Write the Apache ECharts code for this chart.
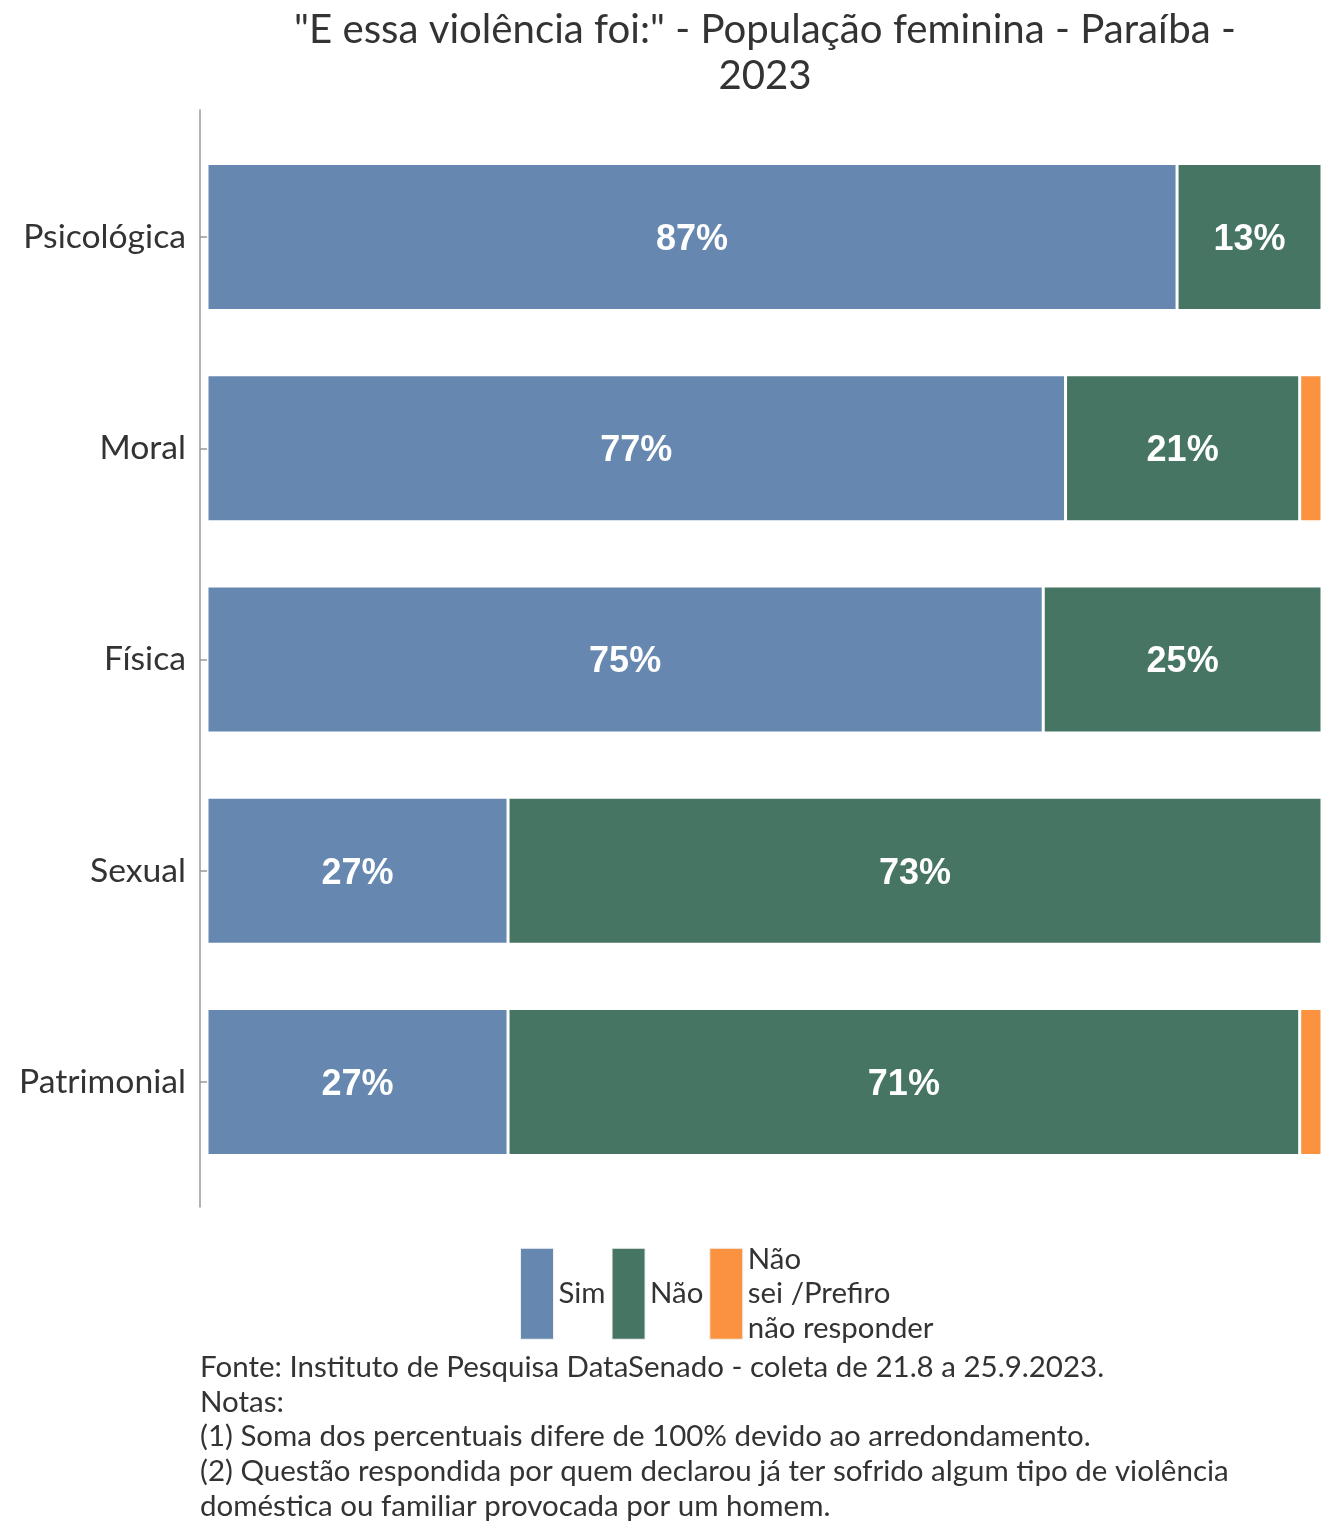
<!DOCTYPE html>
<html>
<head>
<meta charset="utf-8">
<script src="https://cdn.jsdelivr.net/npm/echarts@6/dist/echarts.min.js"></script>
<style>html,body{margin:0;padding:0;background:#fff}#c{width:1344px;height:1536px}</style>
</head>
<body>
<div id="c"></div>
<script>
const categories = ['Psicológica', 'Moral', 'Física', 'Sexual', 'Patrimonial'];
const seriesNames = ['Sim', 'Não', 'Não sei /Prefiro não responder'];
const simValues = [87, 77, 75, 27, 27];
const naoValues = [13, 21, 25, 73, 71];
const nsValues = [0, 2, 0, 0, 2];
const colors = ['#6688B0', '#467563', '#FA923F'];
const titleText = '"E essa violência foi:" - População feminina - Paraíba -\n2023';
const captionText = 'Fonte: Instituto de Pesquisa DataSenado - coleta de 21.8 a 25.9.2023.\nNotas:\n(1) Soma dos percentuais difere de 100% devido ao arredondamento.\n(2) Questão respondida por quem declarou já ter sofrido algum tipo de violência\ndoméstica ou familiar provocada por um homem.';

const FONT = 'Lato';
const chart = echarts.init(document.getElementById('c'), null, {renderer: 'canvas'});

function mkSeries(i, values, showLabel) {
  return {
    name: seriesNames[i],
    type: 'bar',
    stack: 'total',
    xAxisIndex: 0,
    yAxisIndex: 0,
    barWidth: '69.6%',
    data: values,
    itemStyle: {color: colors[i], borderColor: '#ffffff', borderWidth: 1.5},
    label: {
      show: showLabel,
      position: 'inside',
      offset: [0, 3],
      formatter: p => p.value > 0 ? p.value + '%' : '',
      color: '#ffffff',
      fontFamily: 'Liberation Sans, Arial',
      fontWeight: 'bold',
      fontSize: 36
    },
    emphasis: {disabled: true}
  };
}

chart.setOption({
  animation: false,
  backgroundColor: '#ffffff',
  title: [
    {
      text: titleText,
      left: 765,
      top: 7,
      padding: 0,
      textAlign: 'center',
      textStyle: {fontFamily: FONT, fontWeight: 'normal', fontSize: 40.2, lineHeight: 46, color: '#333333'}
    },
    {
      text: captionText,
      left: 200,
      top: 1350,
      padding: 0,
      textStyle: {fontFamily: FONT, fontWeight: 'normal', fontSize: 29.5, lineHeight: 34.7, color: '#333333'}
    }
  ],
  legend: {
    data: seriesNames,
    left: 520,
    top: 1242,
    padding: 0,
    itemGap: 6,
    itemWidth: 33,
    itemHeight: 91,
    icon: 'rect',
    selectedMode: false,
    formatter: n => n === seriesNames[2] ? 'Não\nsei /Prefiro\nnão responder' : n,
    textStyle: {fontFamily: FONT, fontSize: 29.4, lineHeight: 34.5, color: '#333333'},
    itemStyle: {borderColor: '#f0f0f0', borderWidth: 1}
  },
  grid: [
    {left: 207, right: 22, top: 131.5, bottom: 348.5, containLabel: false},
    {left: 200, right: 22, top: 110, bottom: 329, containLabel: false}
  ],
  xAxis: [
    {type: 'value', gridIndex: 0, min: 0, max: 100, show: false},
    {type: 'value', gridIndex: 1, min: 0, max: 100, show: false}
  ],
  yAxis: [
    {
      type: 'category', gridIndex: 0, data: categories, inverse: true, offset: 7,
      axisLine: {show: false},
      axisTick: {show: true, alignWithLabel: true, length: 7, lineStyle: {color: '#999999', width: 1.5}},
      axisLabel: {fontFamily: FONT, fontSize: 33.7, color: '#333333', margin: 14}
    },
    {
      type: 'value', gridIndex: 1, min: 0, max: 1,
      axisLine: {show: true, lineStyle: {color: '#999999', width: 1.5}},
      axisTick: {show: false}, axisLabel: {show: false}, splitLine: {show: false}
    }
  ],
  series: [
    mkSeries(0, simValues, true),
    mkSeries(1, naoValues, true),
    mkSeries(2, nsValues, false)
  ]
});
</script>
</body>
</html>
